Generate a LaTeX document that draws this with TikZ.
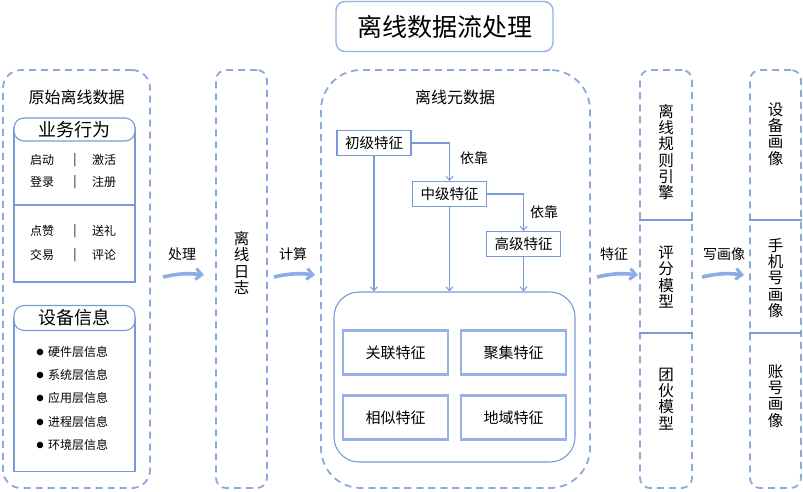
\documentclass[tikz,border=0pt]{standalone}
\usepackage{fontspec}
\setmainfont{Noto Sans CJK SC}
\usetikzlibrary{arrows.meta,calc}
\definecolor{dashblue}{RGB}{140,168,222}
\definecolor{lineblue}{RGB}{120,154,216}
\definecolor{arrblue}{RGB}{140,172,228}
\definecolor{featblue}{RGB}{150,178,230}
\newcommand{\fs}[1]{\fontsize{#1}{#1}\selectfont}
\tikzset{
  dbox/.style={draw=dashblue, line width=1.8pt, dash pattern=on 7pt off 5pt, fill=none, inner sep=0pt},
  sbox/.style={draw=lineblue, line width=1.1pt, inner sep=0pt},
  featbox/.style={draw=featblue, line width=2.2pt, inner sep=0pt, minimum width=105pt, minimum height=44pt, font=\fs{15}},
  lvlbox/.style={draw=lineblue, line width=1.1pt, fill=white, inner sep=0pt, minimum width=74pt, minimum height=25pt, font=\fs{14.5}},
  bigarrow/.style={draw=arrblue, line width=3.6pt, -{Straight Barb[length=6pt,width=11pt,line width=3pt]}},
  smallarrow/.style={draw=lineblue, line width=1.1pt, -{Straight Barb[length=4pt,width=7pt,line width=1pt]}},
  vtext/.style={align=center, font=\fontsize{15.5}{16.3}\selectfont, inner sep=0pt},
  lbl/.style={font=\fs{14}, inner sep=0pt},
  row/.style={font=\fs{12}, inner sep=0pt},
}
\begin{document}
\begin{tikzpicture}[x=1pt,y=-1pt]
\useasboundingbox[fill=white] (0,0) rectangle (803,491);

% title
\node[draw=featblue, line width=1.4pt, rounded corners=9pt, minimum width=217pt, minimum height=50pt, inner sep=0pt, font=\fs{25}] (title) at (444.5,26.5) {离线数据流处理};

% left box
\node[dbox, rounded corners=18pt, minimum width=147pt, minimum height=418pt] (src) at (76.5,279) {};
\node[font=\fs{16}, inner sep=0pt] (srct) at (76.5,97) {原始离线数据};

% business behaviour
\node[sbox, minimum width=121pt, minimum height=154pt] (biz) at (74.5,205) {};
\node[sbox, fill=white, rounded corners=10pt, minimum width=121pt, minimum height=23pt, font=\fs{18}] (bizh) at (74.5,129.5) {业务行为};
\draw[draw=lineblue, line width=1.1pt] (biz.west |- 0,205) coordinate (bd1) -- (biz.east |- 0,205) coordinate (bd2);
\node[row] (r1a) at (42,160) {启动};
\node[row] (r1b) at (75,160) {|};
\node[row] (r1c) at (104,160) {激活};
\node[row] (r2a) at (42,182) {登录};
\node[row] (r2b) at (75,182) {|};
\node[row] (r2c) at (104,182) {注册};
\node[row] (r3a) at (42,231) {点赞};
\node[row] (r3b) at (75,231) {|};
\node[row] (r3c) at (104,231) {送礼};
\node[row] (r4a) at (42,255) {交易};
\node[row] (r4b) at (75,255) {|};
\node[row] (r4c) at (104,255) {评论};

% device info
\node[sbox, minimum width=121pt, minimum height=153pt] (dev) at (74.5,395) {};
\node[sbox, fill=white, rounded corners=10pt, minimum width=121pt, minimum height=25pt, font=\fs{18}] (devh) at (74.5,318) {设备信息};
\foreach \y/\t [count=\i] in {352/硬件层信息,375/系统层信息,398/应用层信息,422/进程层信息,445/环境层信息}{
  \fill (40,\y) circle (3.3pt);
  \node[row, anchor=west] (d\i) at (48,\y) {\t};
}

% arrow 1
\node[lbl] (l1) at (182,254) {处理};
\node[dbox, rounded corners=10pt, minimum width=51pt, minimum height=418pt] (log) at (241.5,279) {};
\node[vtext] (logt) at (241.5,263) {离\\线\\日\\志};
\coordinate (a1s) at (163,277);
\coordinate (a1e) at (204,275);
\draw[bigarrow] (a1s) to[bend left=10] (a1e);

% arrow 2
\node[lbl] (l2) at (293,254) {计算};
\coordinate (a2s) at (274,277);
\coordinate (a2e) at (315,275);
\draw[bigarrow] (a2s) to[bend left=10] (a2e);

% middle box
\node[dbox, rounded corners=40pt, minimum width=269pt, minimum height=418pt] (meta) at (455.5,279) {};
\node[font=\fs{16}, inner sep=0pt] (metat) at (455,97) {离线元数据};
\node[sbox, rounded corners=25pt, minimum width=241pt, minimum height=170pt] (inner) at (454.5,377) {};

\node[lvlbox] (c1) at (374,143) {初级特征};
\node[lvlbox] (c2) at (449.5,194) {中级特征};
\node[lvlbox] (c3) at (523.5,244) {高级特征};
\draw[smallarrow] (c1.east) -| (c2.north);
\draw[smallarrow] (c2.east) -| (c3.north);
\node[lbl] (dep1) at (474,158) {依靠};
\node[lbl] (dep2) at (544,212) {依靠};
\draw[smallarrow] (c1.south) -- (c1.south |- inner.north);
\draw[smallarrow] (c2.south) -- (c2.south |- inner.north);
\draw[smallarrow] (c3.south) -- (c3.south |- inner.north);

\node[featbox] (f1) at (395.5,352.5) {关联特征};
\node[featbox] (f2) at (513.5,352.5) {聚集特征};
\node[featbox] (f3) at (395.5,417.5) {相似特征};
\node[featbox] (f4) at (513.5,417.5) {地域特征};

% arrow 3
\node[lbl] (l3) at (614,254) {特征};
\coordinate (a3s) at (597,277);
\coordinate (a3e) at (638,275);
\draw[bigarrow] (a3s) to[bend left=10] (a3e);

% right column 1
\node[dbox, rounded corners=10pt, minimum width=52pt, minimum height=418pt] (eng) at (666,279) {};
\draw[draw=lineblue, line width=1.1pt] (eng.west |- 0,220) coordinate (e1a) -- (eng.east |- 0,220) coordinate (e1b);
\draw[draw=lineblue, line width=1.1pt] (eng.west |- 0,333) coordinate (e2a) -- (eng.east |- 0,333) coordinate (e2b);
\node[vtext] (e1) at (666,152) {离\\线\\规\\则\\引\\擎};
\node[vtext] (e2) at (666,277) {评\\分\\模\\型};
\node[vtext] (e3) at (666,399) {团\\伙\\模\\型};

% arrow 4
\node[lbl] (l4) at (724,254) {写画像};
\coordinate (a4s) at (702,277);
\coordinate (a4e) at (744,275);
\draw[bigarrow] (a4s) to[bend left=10] (a4e);

% right column 2
\node[dbox, rounded corners=10pt, minimum width=51pt, minimum height=418pt] (por) at (775.5,279) {};
\draw[draw=lineblue, line width=1.1pt] (por.west |- 0,220) coordinate (p1a) -- (por.east |- 0,220) coordinate (p1b);
\draw[draw=lineblue, line width=1.1pt] (por.west |- 0,333) coordinate (p2a) -- (por.east |- 0,333) coordinate (p2b);
\node[vtext] (p1) at (775.5,134) {设\\备\\画\\像};
\node[vtext] (p2) at (775.5,278) {手\\机\\号\\画\\像};
\node[vtext] (p3) at (775.5,396) {账\\号\\画\\像};
\end{tikzpicture}
\end{document}
